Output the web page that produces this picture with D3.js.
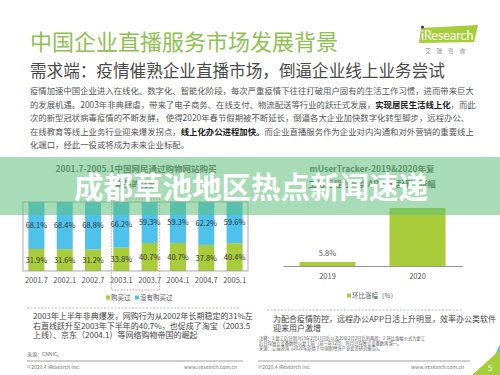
<!DOCTYPE html>
<html>
<head>
<meta charset="utf-8">
<script src="https://cdn.jsdelivr.net/npm/d3@7"></script>
<style>
  body { margin: 0; background: #fff; }
  svg { display: block; font-family: "Noto Sans CJK SC", "Noto Sans", sans-serif; }
</style>
</head>
<body>
<div id="chart"></div>
<script>
// 网购比例
const periods = ['2001.7', '2002.1', '2002.7', '2003.1', '2003.7', '2004.1', '2004.7', '2005.1'];
const bought = [31.9, 31.6, 31.2, 33.8, 40.7, 40.7, 37.8, 40.4];
const notBought = [68.1, 68.4, 68.8, 66.2, 59.3, 59.3, 62.2, 59.6];
// 远程办公APP日活环比涨幅
const years = ['2019', '2020'];
const growth = [5.8, 84];

const width = 500, height = 375;
const green = '#a9cc3a', blue = '#4fc2ec', txt = '#555';

let svg = d3.select('#chart').append('svg')
    .attr('width', width)
    .attr('height', height);

// 标题
svg.append('text')
    .attr('x', 30).attr('y', 50)
    .attr('font-size', 22)
    .attr('fill', '#8fc152')
    .text('中国企业直播服务市场发展背景');

svg.append('text')
    .attr('x', 30).attr('y', 77)
    .attr('font-size', 16.6)
    .attr('fill', '#4a4a4a')
    .text('需求端：疫情催熟企业直播市场，倒逼企业线上业务尝试');

// logo
let logo = svg.append('g');
logo.append('path')
    .attr('d', 'M421,28 L478,25 L474,42 L419,43 Z')
    .attr('fill', '#a6ce39');
logo.append('text')
    .attr('x', 421).attr('y', 40)
    .attr('font-size', 12.5)
    .attr('font-family', 'Lato, sans-serif')
    .attr('fill', '#fff')
    .text('iResearch');
logo.append('circle').attr('cx', 422.5).attr('cy', 27).attr('r', 1.5).attr('fill', '#1d3e8a');
logo.append('text')
    .attr('x', 448).attr('y', 53)
    .attr('font-size', 5.5)
    .attr('fill', '#888')
    .attr('text-anchor', 'middle')
    .attr('letter-spacing', 6)
    .text('艾瑞咨询');

// 正文
const para = [
  [['疫情加速中国企业进入在线化、数字化、智能化阶段，每次严重疫情下往往打破用户固有的生活工作习惯，进而带来巨大', 0]],
  [['的发展机遇。2003年非典肆虐，带来了电子商务、在线支付、物流配送等行业的跃迁式发展，', 0], ['实现居民生活线上化', 1], ['，而此', 0]],
  [['次的新型冠状病毒疫情的不断发酵， 使得2020年春节假期被不断延长，倒逼各大企业加快数字化转型脚步，远程办公、', 0]],
  [['在线教育等线上业务行业迎来爆发拐点，', 0], ['线上化办公进程加快。', 1], ['而企业直播服务作为企业对内沟通和对外营销的重要线上', 0]],
  [['化端口，经此一役或将成为未来企业标配。', 0]]
];
para.forEach((line, i) => {
  let t = svg.append('text')
      .attr('x', 30).attr('y', 94 + i * 13.5)
      .attr('font-size', 8.4)
      .attr('fill', txt);
  line.forEach(seg => {
    t.append('tspan')
        .attr('font-weight', seg[1] ? 700 : 400)
        .attr('fill', seg[1] ? '#222' : txt)
        .text(seg[0]);
  });
});

// 左图：购物网站购买比例
svg.append('text')
    .attr('x', 136).attr('y', 172)
    .attr('text-anchor', 'middle')
    .attr('font-size', 8.5).attr('font-weight', 700)
    .attr('fill', '#595959')
    .text('2001.7-2005.1中国网民通过购物网站购买');
svg.append('text')
    .attr('x', 136).attr('y', 187)
    .attr('text-anchor', 'middle')
    .attr('font-size', 8.5).attr('font-weight', 700)
    .attr('fill', '#595959')
    .text('商品的比例');

let x1 = d3.scaleBand()
    .domain(periods)
    .range([23, 248])
    .paddingInner(0.434)
    .paddingOuter(0.19);
let y1 = d3.scaleLinear()
    .domain([0, 100])
    .range([271, 202]);

let stack = periods.map((p, i) => ({p: p, b: bought[i], n: notBought[i]}));

let col = svg.append('g').selectAll('.col')
    .data(stack)
    .join('g')
    .attr('class', 'col');

col.append('rect')
    .attr('x', d => x1(d.p))
    .attr('width', x1.bandwidth())
    .attr('y', d => y1(d.b))
    .attr('height', d => y1(0) - y1(d.b))
    .attr('fill', green);
col.append('rect')
    .attr('x', d => x1(d.p))
    .attr('width', x1.bandwidth())
    .attr('y', d => y1(d.b + d.n))
    .attr('height', d => y1(d.b) - y1(d.b + d.n))
    .attr('fill', blue);
col.append('text')
    .attr('x', d => x1(d.p) + x1.bandwidth() / 2)
    .attr('y', d => y1(d.b / 2))
    .attr('dy', '0.35em')
    .attr('text-anchor', 'middle')
    .attr('font-size', 7.5)
    .attr('fill', '#333')
    .text(d => d.b.toFixed(1) + '%');
col.append('text')
    .attr('x', d => x1(d.p) + x1.bandwidth() / 2)
    .attr('y', d => y1(d.b + d.n / 2))
    .attr('dy', '0.35em')
    .attr('text-anchor', 'middle')
    .attr('font-size', 7.5)
    .attr('fill', '#333')
    .text(d => d.n.toFixed(1) + '%');

// 边框
svg.append('rect')
    .attr('x', 23).attr('y', 202)
    .attr('width', 225).attr('height', 69)
    .attr('fill', 'none')
    .attr('stroke', '#9a9a9a')
    .attr('stroke-width', 0.8);

svg.append('g')
    .attr('transform', 'translate(0,271)')
    .call(d3.axisBottom(x1).tickSize(0).tickPadding(7))
    .call(g => g.select('.domain').remove())
    .call(g => g.selectAll('text').attr('font-size', 7.5).attr('fill', txt)
        .attr('font-family', '"Noto Sans CJK SC", sans-serif'));

// 2003 虚线框
svg.append('rect')
    .attr('x', x1('2003.1') - 2)
    .attr('y', 199)
    .attr('width', x1('2003.7') + x1.bandwidth() + 2 - (x1('2003.1') - 2))
    .attr('height', 91)
    .attr('fill', 'none')
    .attr('stroke', '#e07a7a')
    .attr('stroke-width', 0.8)
    .attr('stroke-dasharray', '1.5 1.5');

// 左图图例
let lg1 = svg.append('g').attr('font-size', 6.5).attr('fill', txt);
lg1.append('rect').attr('x', 106).attr('y', 295.5).attr('width', 4).attr('height', 4).attr('fill', green);
lg1.append('text').attr('x', 111).attr('y', 300).text('购买过');
lg1.append('rect').attr('x', 135).attr('y', 295.5).attr('width', 4).attr('height', 4).attr('fill', blue);
lg1.append('text').attr('x', 140).attr('y', 300).text('没有购买过');

// 右图：远程办公APP日活涨幅
svg.append('text')
    .attr('x', 372).attr('y', 172)
    .attr('text-anchor', 'middle')
    .attr('font-size', 8.5).attr('font-weight', 700)
    .attr('fill', '#595959')
    .text('mUserTracker-2019&2020年复');
svg.append('text')
    .attr('x', 372).attr('y', 187)
    .attr('text-anchor', 'middle')
    .attr('font-size', 8.5).attr('font-weight', 700)
    .attr('fill', '#595959')
    .text('工后远程办公类APP日活环比涨幅');

let x2 = d3.scaleBand()
    .domain(years)
    .range([283, 462])
    .paddingInner(0.378)
    .paddingOuter(0.183);
let y2 = d3.scaleLinear()
    .domain([0, 100])
    .range([266, 197]);

svg.append('g').selectAll('.gbar')
    .data(years)
    .join('rect')
    .attr('class', 'gbar')
    .attr('x', d => x2(d))
    .attr('width', x2.bandwidth())
    .attr('y', (d, i) => y2(growth[i]))
    .attr('height', (d, i) => y2(0) - y2(growth[i]))
    .attr('fill', green);

svg.append('text')
    .attr('x', x2('2019') + x2.bandwidth() / 2)
    .attr('y', y2(growth[0]) - 6)
    .attr('text-anchor', 'middle')
    .attr('font-size', 7.5)
    .attr('fill', txt)
    .text(growth[0] + '%');

svg.append('g')
    .attr('transform', 'translate(0,266)')
    .call(d3.axisBottom(x2).tickSize(0).tickPadding(8))
    .call(g => g.select('.domain').attr('stroke', '#777').attr('stroke-width', 0.8))
    .call(g => g.selectAll('text').attr('font-size', 7.5).attr('fill', txt)
        .attr('font-family', '"Noto Sans CJK SC", sans-serif'));

let lg2 = svg.append('g').attr('font-size', 6.5).attr('fill', txt);
lg2.append('rect').attr('x', 347).attr('y', 293.5).attr('width', 4).attr('height', 4).attr('fill', green);
lg2.append('text').attr('x', 352).attr('y', 298).text('环比涨幅（%）');

// 下方说明
svg.append('line').attr('x1', 27).attr('x2', 240).attr('y1', 308).attr('y2', 308)
    .attr('stroke', '#aaa').attr('stroke-width', 0.8).attr('stroke-dasharray', '2 1.5');
svg.append('line').attr('x1', 267).attr('x2', 463).attr('y1', 310).attr('y2', 310)
    .attr('stroke', '#aaa').attr('stroke-width', 0.8).attr('stroke-dasharray', '2 1.5');

const noteL = ['2003年上半年非典爆发，网购行为从2002年长期稳定的31%左',
               '右直线跃升至2003年下半年的40.7%，也促成了淘宝（2003.5',
               '上线）、京东（2004.1）等网络购物帝国的崛起'];
noteL.forEach((s, i) => {
  svg.append('text').attr('x', 33).attr('y', 319 + i * 9.5)
      .attr('font-size', 8).attr('fill', '#444').text(s);
});
const noteR = ['为配合疫情防控，远程办公APP日活上升明显，效率办公类软件',
               '迎来用户激增'];
noteR.forEach((s, i) => {
  svg.append('text').attr('x', 273).attr('y', 322 + i * 9)
      .attr('font-size', 8).attr('fill', '#444').text(s);
});
const tiny = ['注释：1.复工后分别为19年2月11日后以及20年2月2日后的两周；2.环比涨幅公式为复工',
              '后日均独立设备数除以复工前（前一年12月）的月日均独立设备数再减一。',
              '来源：艾瑞咨询《2020年疫情下中国新经济产业投资研究报告》。'];
tiny.forEach((s, i) => {
  svg.append('text').attr('x', 259).attr('y', 340 + i * 5)
      .attr('font-size', 4.3).attr('fill', '#555').text(s);
});
svg.append('text').attr('x', 27).attr('y', 356)
    .attr('font-size', 5).attr('fill', '#666').text('来源：CNNIC。');

[[27, 243], [258, 470]].forEach(r => {
  svg.append('line').attr('x1', r[0]).attr('x2', r[1]).attr('y1', 361).attr('y2', 361)
      .attr('stroke', '#888').attr('stroke-width', 0.8);
  svg.append('text').attr('x', r[0]).attr('y', 369)
      .attr('font-size', 5).attr('fill', '#777').text('©2020.4 iResearch Inc.');
  svg.append('text').attr('x', r[1] - 6).attr('y', 369).attr('text-anchor', 'end')
      .attr('font-size', 5).attr('fill', '#777').text('www.iresearch.com.cn');
});

// 角标
svg.append('path').attr('d', 'M486,375 L500,344 L500,352 L490,375 Z').attr('fill', '#4fc2ec');
svg.append('path').attr('d', 'M472,375 L500,350 L500,375 Z').attr('fill', '#a6ce39');
svg.append('text').attr('x', 490).attr('y', 371).attr('text-anchor', 'middle')
    .attr('font-size', 8).attr('fill', '#fff').text('5');

// 新闻横幅
svg.append('rect')
    .attr('x', 0).attr('y', 157)
    .attr('width', width).attr('height', 58)
    .attr('fill', 'rgb(97,191,122)')
    .attr('fill-opacity', 0.55);
svg.append('text')
    .attr('x', 251).attr('y', 188)
    .attr('dy', '0.35em')
    .attr('text-anchor', 'middle')
    .attr('font-size', 29.5)
    .attr('font-weight', 700)
    .attr('fill', '#fff')
    .text('成都草池地区热点新闻速递');
</script>
</body>
</html>
